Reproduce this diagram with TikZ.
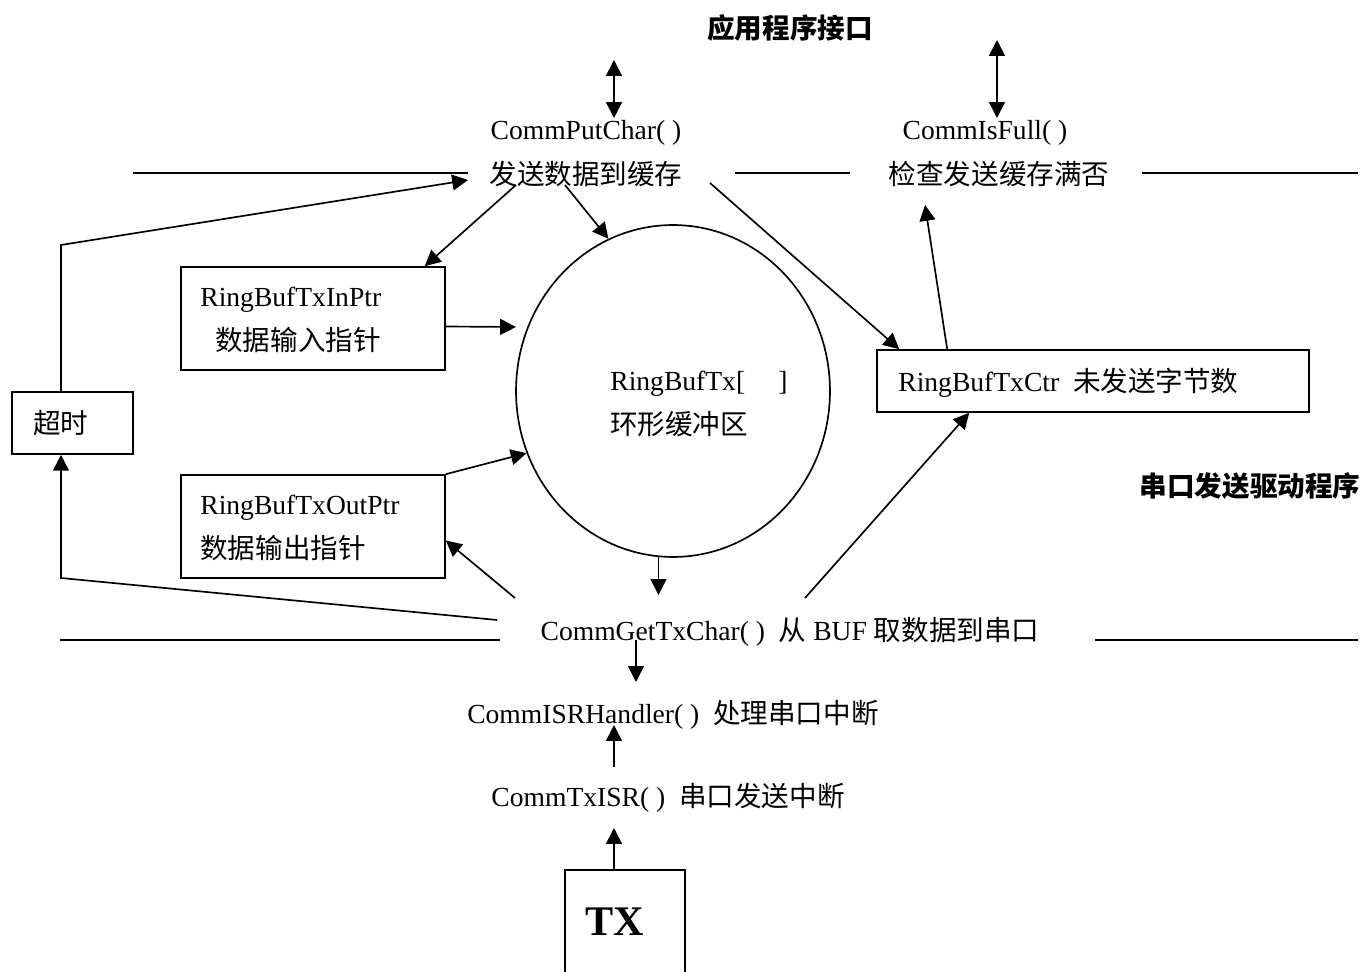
\documentclass[tikz,border=0pt]{standalone}
\usepackage{fontspec}
\setmainfont{Liberation Serif}
\newfontfamily\cjk{Noto Sans CJK SC}
\usetikzlibrary{arrows.meta,shapes.geometric,calc}
\tikzset{
  txt/.style={inner sep=0pt, font=\fontsize{15.7}{18}\selectfont},
  boxn/.style={draw, line width=0.95pt, inner sep=0pt},
  ln/.style={line width=0.95pt},
  arr/.style={line width=0.95pt, -{Triangle[length=9pt,width=9pt]}},
  darr/.style={line width=0.95pt, {Triangle[length=9pt,width=9pt]}-{Triangle[length=9pt,width=9pt]}}
}
\begin{document}
\begin{tikzpicture}[x=0.02cm,y=-0.02cm]
\useasboundingbox (0,0) rectangle (1363,972);
% headings
\node[txt, font=\fontsize{15.7}{18}\selectfont\cjk\bfseries] (title) at (790,28) {应用程序接口};
\node[txt, font=\fontsize{15.7}{18}\selectfont\cjk\bfseries] (drv) at (1250,486) {串口发送驱动程序};
% top texts
\node[txt] (put1) at (586,133) {CommPutChar( )};
\node[txt] (put2) at (586,174) {\cjk 发送数据到缓存};
\node[txt] (full1) at (985,133) {CommIsFull( )};
\node[txt] (full2) at (999,174) {\cjk 检查发送缓存满否};
% boxes
\node[boxn, minimum width=5.28cm, minimum height=2.06cm] (inptr) at (313,318.5) {};
\node[txt, anchor=west] (inptrA) at (200,300) {RingBufTxInPtr};
\node[txt, anchor=west] (inptrB) at (215,340) {\cjk 数据输入指针};
\node[boxn, minimum width=5.28cm, minimum height=2.06cm] (outptr) at (313,526.5) {};
\node[txt, anchor=west] (outptrA) at (200,508) {RingBufTxOutPtr};
\node[txt, anchor=west] (outptrB) at (200,548) {\cjk 数据输出指针};
\node[boxn, minimum width=2.42cm, minimum height=1.24cm] (tmo) at (72.5,423) {};
\node[txt, anchor=west] (tmoT) at (33,423) {\cjk 超时};
\node[draw, ellipse, line width=0.95pt, minimum width=6.28cm, minimum height=6.64cm, inner sep=0pt] (ring) at (673,391) {};
\node[txt, anchor=west] (ringA) at (610,384) {RingBufTx[\hspace{1.2em}]};
\node[txt] (ringB) at (679,424) {\cjk 环形缓冲区};
\node[boxn, minimum width=8.64cm, minimum height=1.24cm] (ctr) at (1093,381) {};
\node[txt, anchor=west] (ctrT) at (898,383) {RingBufTxCtr\ \ {\cjk 未发送字节数}};
% bottom texts
\node[txt] (get) at (790,632) {CommGetTxChar( )\ \ {\cjk 从} BUF {\cjk 取数据到串口}};
\node[txt] (isr) at (673,715) {CommISRHandler( )\ \ {\cjk 处理串口中断}};
\node[txt] (txisr) at (668,798) {CommTxISR( )\ \ {\cjk 串口发送中断}};
\node[boxn, minimum width=2.4cm, minimum height=2.6cm] (txbox) at (625,935) {};
\node[txt, font=\fontsize{24}{28}\selectfont\bfseries] (txT) at (615,922) {TX};
% horizontal separators
\draw[ln] (133,173) -- (468,173);
\draw[ln] (735,173) -- (850,173);
\draw[ln] (1142,173) -- (1358,173);
\draw[ln] (60,640) -- (500,640);
\draw[ln] (1095,640) -- (1358,640);
% coordinates
\coordinate (dA1) at (614,60);
\coordinate (dA2) at (614,118);
\coordinate (dB1) at (997,40);
\coordinate (dB2) at (997,118);
\coordinate (p1) at (468,180);
\coordinate (p2) at (516,185);
\coordinate (p3) at (565,185);
\coordinate (p4) at (710,183);
\coordinate (f1) at (925,205);
\coordinate (r1) at (516,327);
\coordinate (g1) at (515,598);
\coordinate (g2) at (805,598);
\coordinate (g3) at (497,620);
\coordinate (rb) at (ring.265);
\coordinate (g4) at (rb |- 0,595);
\coordinate (h1) at (636,640);
\coordinate (h2) at (636,682);
\coordinate (i1) at (614,767);
\coordinate (i2) at (614,725);
\coordinate (t1) at (614,828);
% connectors
\draw[darr] (dA1) -- (dA2);
\draw[darr] (dB1) -- (dB2);
\draw[arr] ($(tmo.north)+(-11.5,0)$) -- (61,245) -- (p1);
\draw[arr] (p2) -- ($(inptr.north east)+(-21,0)$);
\draw[arr] (p3) -- (ring.113);
\draw[arr] (p4) -- ($(ctr.north west)+(23,0)$);
\draw[arr] ($(ctr.north west)+(71,0)$) -- (f1);
\draw[arr] ($(inptr.east)+(0,8)$) -- (r1);
\draw[arr] (outptr.north east) -- (ring.203);
\draw[arr] (g1) -- ($(outptr.east)+(0,14)$);
\draw[arr] (rb) -- (g4);
\draw[arr] (g2) -- ($(ctr.south west)+(93,0)$);
\draw[arr] (g3) -- (61,578) -- ($(tmo.south)+(-11.5,0)$);
\draw[arr] (h1) -- (h2);
\draw[arr] (i1) -- (i2);
\draw[arr] ($(txbox.north)+(-11,0)$) -- (t1);
\end{tikzpicture}
\end{document}
